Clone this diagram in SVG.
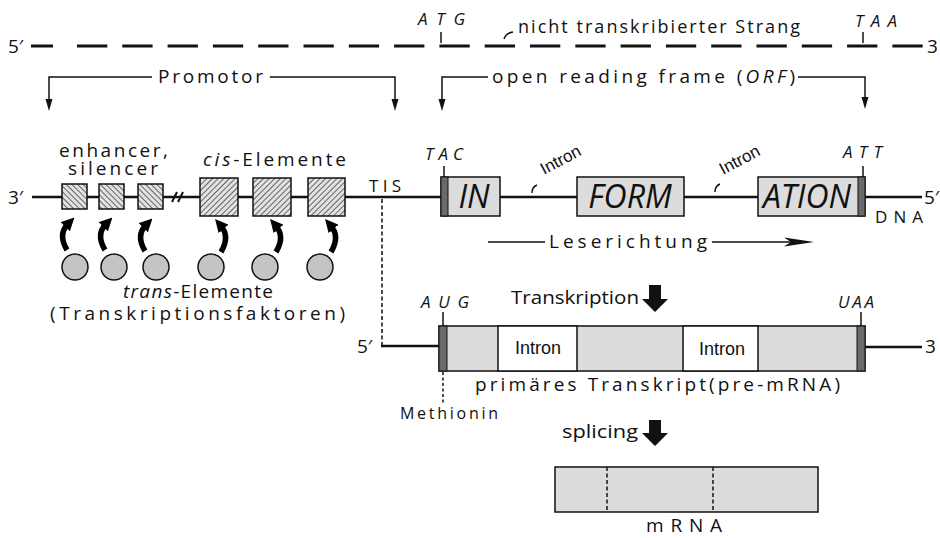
<svg xmlns="http://www.w3.org/2000/svg" width="940" height="538" viewBox="0 0 940 538">
<defs>
<style>
text{font-family:"Open Sans",Lato,"DejaVu Sans",sans-serif;fill:#111;}
.lbl{font-size:19px;}
.it{font-style:italic;}
.big{font-size:32px;font-style:italic;}
.ln{stroke:#111;stroke-width:2.5;fill:none;}
.thin{stroke:#111;stroke-width:1.5;fill:none;}
.box{fill:#dcdcdc;stroke:#111;stroke-width:1.5;}
.dark{fill:#6a6a6a;stroke:#111;stroke-width:1;}
.tf{fill:#c4c4c4;stroke:#111;stroke-width:1.5;}
.bind{stroke:#000;stroke-width:5.5;fill:none;marker-end:url(#hd);}
.ah{fill:#111;}
.sans{font-family:"Liberation Sans",Arial,sans-serif;}
</style>
<pattern id="hb" width="4" height="4" patternUnits="userSpaceOnUse" patternTransform="rotate(-45)"><rect width="4" height="4" fill="#e2e2e2"/><line x1="0" y1="0" x2="0" y2="4" stroke="#222" stroke-width="1.3"/></pattern>
<pattern id="hf" width="4" height="4" patternUnits="userSpaceOnUse" patternTransform="rotate(45)"><rect width="4" height="4" fill="#e2e2e2"/><line x1="0" y1="0" x2="0" y2="4" stroke="#222" stroke-width="1.3"/></pattern>
<marker id="hd" viewBox="0 0 10 10" refX="3" refY="5" markerWidth="13" markerHeight="13" markerUnits="userSpaceOnUse" orient="auto"><path d="M0,0 L10,5 L0,10 Z" fill="#000"/></marker>
</defs>

<g id="top-strand">
<text x="8" y="53" style="font-size:19px">5′</text>
<line x1="31" y1="46" x2="53" y2="46" class="ln" style="stroke-width:3"/>
<line x1="77" y1="46" x2="923" y2="46" class="ln" style="stroke-width:3;stroke-dasharray:30.3 15"/>
<text x="927" y="53" style="font-size:19px">3</text>
<text x="418" y="25" class="it" style="font-size:17px" textLength="47" lengthAdjust="spacing">ATG</text>
<line x1="441" y1="32" x2="441" y2="43" class="thin"/>
<text x="855" y="27" class="it" style="font-size:17px" textLength="42" lengthAdjust="spacing">TAA</text>
<line x1="863" y1="32" x2="863" y2="43" class="thin"/>
<path d="M504,39 Q506,33 513,32" class="thin"/>
<text x="518" y="33" style="font-size:18px" textLength="282" lengthAdjust="spacing">nicht transkribierter Strang</text>
</g>

<g id="promotor">
<path d="M49,100 V77 H152 M270,77 H395 V100" class="thin"/>
<polygon points="45.5,99 52.5,99 49,111" class="ah"/>
<polygon points="391.5,99 398.5,99 395,111" class="ah"/>
<text x="158" y="83" class="lbl" textLength="105" lengthAdjust="spacing">Promotor</text>
</g>

<g id="orf">
<path d="M442,100 V77 H488 M798,77 H865 V98" class="thin"/>
<polygon points="438.5,99 445.5,99 442,111" class="ah"/>
<polygon points="861.5,97 868.5,97 865,109" class="ah"/>
<text x="492" y="83" class="lbl" textLength="303" lengthAdjust="spacing">open reading frame (<tspan class="it">ORF</tspan>)</text>
</g>

<g id="dna">
<text x="8" y="204" style="font-size:19px">3′</text>
<line x1="32" y1="197" x2="922" y2="197" class="ln"/>
<path d="M172,202 L177,192 M178,202 L183,192" class="thin" style="stroke-width:2"/>
<text x="924" y="204" style="font-size:19px">5′</text>
<text x="875" y="223" style="font-size:17px" textLength="48" lengthAdjust="spacing">DNA</text>
</g>

<g id="enhancer">
<text x="59" y="157" class="lbl" textLength="109" lengthAdjust="spacing">enhancer,</text>
<text x="68" y="175" class="lbl" textLength="90" lengthAdjust="spacing">silencer</text>
<rect x="62" y="184" width="25" height="25" fill="url(#hb)" stroke="#111" stroke-width="1.5"/>
<rect x="99" y="184" width="25" height="25" fill="url(#hb)" stroke="#111" stroke-width="1.5"/>
<rect x="138" y="184" width="25" height="25" fill="url(#hb)" stroke="#111" stroke-width="1.5"/>
</g>

<g id="cis-elemente">
<text x="203" y="166" class="lbl" textLength="143" lengthAdjust="spacing"><tspan class="it">cis</tspan>-Elemente</text>
<rect x="200" y="178" width="38" height="38" fill="url(#hf)" stroke="#111" stroke-width="1.5"/>
<rect x="253" y="178" width="38" height="38" fill="url(#hf)" stroke="#111" stroke-width="1.5"/>
<rect x="308" y="178" width="37" height="38" fill="url(#hf)" stroke="#111" stroke-width="1.5"/>
</g>

<g id="tis">
<text x="369" y="192" style="font-size:17px" textLength="32" lengthAdjust="spacing">TIS</text>
<line x1="382" y1="199" x2="382" y2="345" class="thin" style="stroke-dasharray:4 2.5"/>
</g>

<g id="trans-elemente">
<circle cx="75" cy="267" r="13" class="tf"/>
<circle cx="114" cy="267" r="13" class="tf"/>
<circle cx="156" cy="267" r="13" class="tf"/>
<circle cx="211" cy="267" r="13" class="tf"/>
<circle cx="265" cy="267" r="13" class="tf"/>
<circle cx="320" cy="267" r="13" class="tf"/>
<text x="123" y="298" class="lbl" textLength="150" lengthAdjust="spacing"><tspan class="it">trans</tspan>-Elemente</text>
<text x="50" y="320" class="lbl" textLength="295" lengthAdjust="spacing">(Transkriptionsfaktoren)</text>
</g>

<g id="connectors">
<path d="M67,250 C61,240 61,231 68,224" class="bind"/>
<path d="M105,250 C99,240 99,231 106,224" class="bind"/>
<path d="M145,251 C139,241 139,232 146,225" class="bind"/>
<path d="M221,252 C227,242 227,233 221,226" class="bind"/>
<path d="M276,252 C282,242 282,233 276,226" class="bind"/>
<path d="M331,252 C337,242 337,233 331,226" class="bind"/>
</g>

<g id="exon-in">
<text x="425" y="160" class="it" style="font-size:17px" textLength="38" lengthAdjust="spacing">TAC</text>
<line x1="444" y1="166" x2="444" y2="177" class="thin"/>
<rect x="441" y="177" width="59" height="39" class="box"/>
<rect x="441" y="177" width="7" height="39" class="dark"/>
<text x="474" y="208" class="big" text-anchor="middle">IN</text>
</g>

<g id="intron-1">
<path d="M532,193 Q532,187 537,185" class="thin"/>
<text x="544" y="175" class="sans" style="font-size:17px" transform="rotate(-28 544 175)">Intron</text>
</g>

<g id="exon-form">
<rect x="577" y="177" width="107" height="39" class="box"/>
<text x="630" y="208" class="big" text-anchor="middle">FORM</text>
</g>

<g id="intron-2">
<path d="M715,192 Q715,186 720,184" class="thin"/>
<text x="723" y="175" class="sans" style="font-size:17px" transform="rotate(-28 723 175)">Intron</text>
</g>

<g id="exon-ation">
<text x="843" y="158" class="it" style="font-size:17px" textLength="39" lengthAdjust="spacing">ATT</text>
<line x1="863" y1="166" x2="863" y2="177" class="thin"/>
<rect x="758" y="177" width="107" height="39" class="box"/>
<rect x="858" y="177" width="7" height="39" class="dark"/>
<text x="807" y="208" class="big" text-anchor="middle">ATION</text>
</g>

<g id="leserichtung">
<line x1="488" y1="242" x2="545" y2="242" class="thin"/>
<text x="549" y="248" class="lbl" textLength="158" lengthAdjust="spacing">Leserichtung</text>
<line x1="712" y1="242" x2="800" y2="242" class="thin"/>
<path d="M784,237.5 L814,242 L784,246.5 L791,242 Z" class="ah"/>
</g>

<g id="transkription">
<text x="511" y="304" style="font-size:18px" textLength="128" lengthAdjust="spacingAndGlyphs">Transkription</text>
<path d="M649,285 H661 V299 H668 L655,312 L642,299 H649 Z" class="ah"/>
</g>

<g id="pre-mrna">
<text x="357" y="353" style="font-size:19px">5′</text>
<line x1="381" y1="346" x2="439" y2="346" class="ln"/>
<text x="421" y="308" class="it" style="font-size:17px" textLength="48" lengthAdjust="spacing">AUG</text>
<line x1="443" y1="312" x2="443" y2="326" class="thin"/>
<text x="838" y="308" class="it" style="font-size:17px" textLength="36" lengthAdjust="spacing">UAA</text>
<line x1="861" y1="312" x2="861" y2="326" class="thin"/>
<rect x="439" y="326" width="426" height="45" class="box"/>
<rect x="498" y="326" width="79" height="45" fill="#fff" stroke="#111" stroke-width="1.5"/>
<rect x="683" y="326" width="75" height="45" fill="#fff" stroke="#111" stroke-width="1.5"/>
<rect x="439" y="326" width="8" height="45" class="dark"/>
<rect x="857" y="326" width="8" height="45" class="dark"/>
<text x="538" y="354" class="sans" style="font-size:18px" text-anchor="middle">Intron</text>
<text x="722" y="355" class="sans" style="font-size:18px" text-anchor="middle">Intron</text>
<line x1="865" y1="347" x2="922" y2="347" class="ln"/>
<text x="925" y="353" style="font-size:19px">3</text>
<text x="475" y="391" class="lbl" textLength="365" lengthAdjust="spacing">primäres Transkript(pre-mRNA)</text>
<line x1="443" y1="372" x2="443" y2="405" class="thin" style="stroke-dasharray:3 2.5"/>
<text x="400" y="419" style="font-size:16px" textLength="98" lengthAdjust="spacing">Methionin</text>
</g>

<g id="splicing">
<text x="562" y="438" style="font-size:18px" textLength="76" lengthAdjust="spacingAndGlyphs">splicing</text>
<path d="M649,420 H661 V433 H668 L655,446 L642,433 H649 Z" class="ah"/>
</g>

<g id="mrna">
<rect x="555" y="467" width="263" height="45" class="box"/>
<line x1="607" y1="467" x2="607" y2="512" class="thin" style="stroke-dasharray:4 2.5"/>
<line x1="713" y1="467" x2="713" y2="512" class="thin" style="stroke-dasharray:4 2.5"/>
<text x="646" y="532" class="lbl" textLength="76" lengthAdjust="spacing">mRNA</text>
</g>
</svg>
